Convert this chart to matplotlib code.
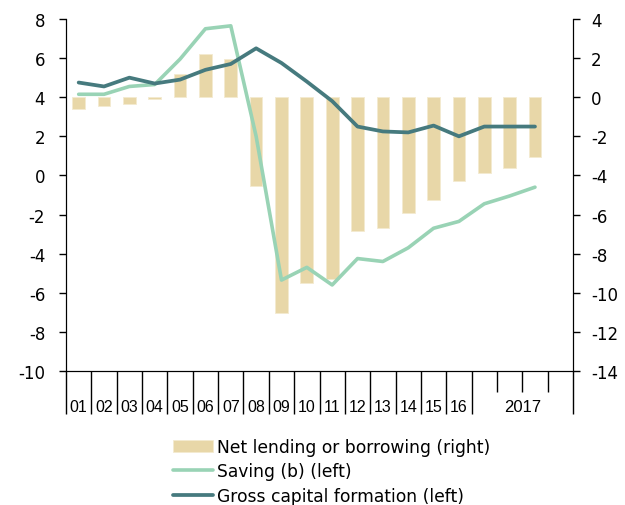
import matplotlib.pyplot as plt
import matplotlib.transforms as mtransforms
import numpy as np

plt.rcParams['font.family'] = ['DejaVu Sans']
plt.rcParams['axes.unicode_minus'] = False

# 2001-2016 annual, then 2017 Q1-Q3
periods = ["01", "02", "03", "04", "05", "06", "07", "08", "09", "10",
           "11", "12", "13", "14", "15", "16", "17Q1", "17Q2", "17Q3"]
net_lending = [-0.6, -0.45, -0.35, -0.1, 1.2, 2.2, 1.95, -4.55, -11.05, -9.5,
               -9.3, -6.85, -6.7, -5.9, -5.25, -4.3, -3.9, -3.6, -3.05]
saving = [4.15, 4.15, 4.55, 4.65, 5.95, 7.5, 7.65, 2.0, -5.35, -4.7,
          -5.6, -4.25, -4.4, -3.7, -2.7, -2.35, -1.45, -1.05, -0.6]
gcf = [4.75, 4.55, 5.0, 4.7, 4.9, 5.4, 5.7, 6.5, 5.75, 4.8,
       3.8, 2.5, 2.25, 2.2, 2.55, 2.0, 2.5, 2.5, 2.5]
year_labels = ["01", "02", "03", "04", "05", "06", "07", "08", "09", "10",
               "11", "12", "13", "14", "15", "16"]

BAR_C = "#e8d7a8"
SAV_C = "#99d3b5"
GCF_C = "#467a7e"

fig = plt.figure(figsize=(6.25, 5.06), dpi=100)
ax = fig.add_axes([0.1056, 0.2648, 0.8112, 0.6957])
ax2 = ax.twinx()
ax.set_zorder(ax2.get_zorder() + 1)
ax.patch.set_visible(False)

xs = np.arange(len(periods)) + 0.5
bars = ax2.bar(xs, net_lending, width=0.5, color=BAR_C, edgecolor="#f3ead0", linewidth=0.6)
l1, = ax.plot(xs, saving, color=SAV_C, lw=2.6, solid_capstyle="round")
l2, = ax.plot(xs, gcf, color=GCF_C, lw=2.7, solid_capstyle="round")

ax.set_xlim(0, 20)
ax.set_ylim(-10, 8)
ax2.set_ylim(-14, 4)
ax.set_yticks(np.arange(-10, 9, 2))
ax2.set_yticks(np.arange(-14, 5, 2))

for a in (ax, ax2):
    a.spines["top"].set_visible(False)
    a.tick_params(axis="y", direction="out", length=5, width=1, labelsize=12, colors="black")
ax.tick_params(axis="y", pad=10)
ax2.tick_params(axis="y", pad=8)

ax.set_xticks(list(range(0, 17)) + [20])
ax.set_xticks([17, 18, 19], minor=True)
ax.tick_params(axis="x", which="major", direction="out", length=31, width=1, labelbottom=False)
ax.tick_params(axis="x", which="minor", direction="out", length=15, width=1, labelbottom=False)
ax2.tick_params(axis="x", which="both", length=0, labelbottom=False)

trans = mtransforms.blended_transform_factory(ax.transData, ax.transAxes)
for i, lab in enumerate(year_labels):
    ax.text(i + 0.5, -0.102, lab, transform=trans, ha="center", va="center",
            fontsize=11.5, family="Liberation Sans")
ax.text(18.0, -0.102, "2017", transform=trans, ha="center", va="center",
        fontsize=12, family="Liberation Sans")

fig.legend([bars, l1, l2],
           ["Net lending or borrowing (right)", "Saving (b) (left)",
            "Gross capital formation (left)"],
           loc="upper left", bbox_to_anchor=(0.277, 0.132),
           frameon=False, fontsize=12.3, handlelength=2.36, handletextpad=0.23,
           labelspacing=0.36, borderaxespad=0, borderpad=0)

fig.savefig("out.png", dpi=100)
